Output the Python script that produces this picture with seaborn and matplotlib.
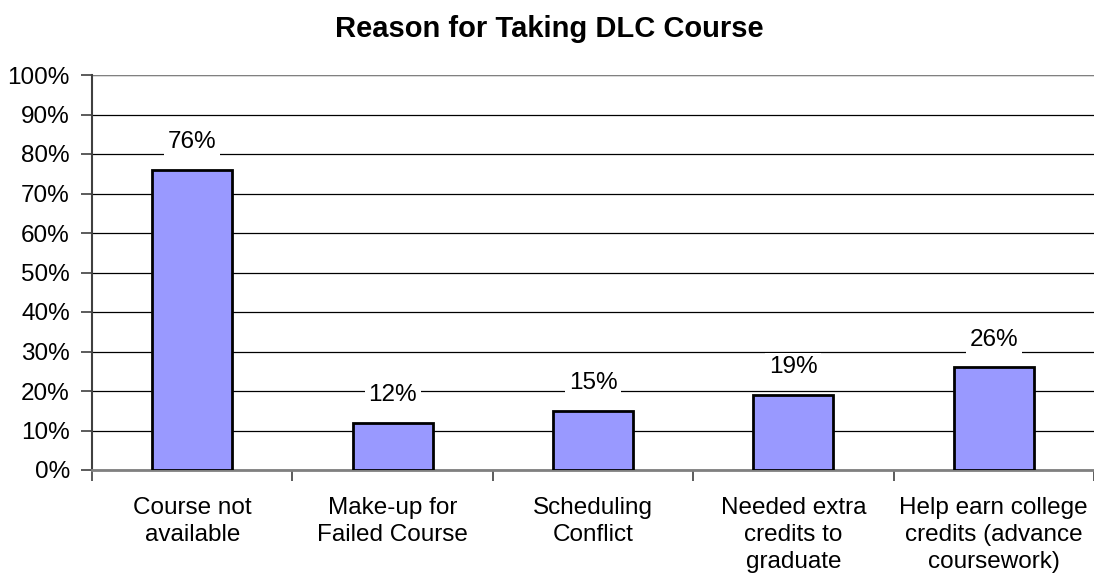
import matplotlib
matplotlib.use("Agg")
import matplotlib.pyplot as plt
import seaborn as sns
import pandas as pd
from matplotlib.ticker import MultipleLocator, FuncFormatter

categories = ["Course not\navailable", "Make-up for\nFailed Course", "Scheduling\nConflict",
              "Needed extra\ncredits to\ngraduate", "Help earn college\ncredits (advance\ncoursework)"]
values = [76, 12, 15, 19, 26]
title = "Reason for Taking DLC Course"

sns.set_theme(style="white")
plt.rcParams['font.family'] = ['Liberation Sans', 'DejaVu Sans']
plt.rcParams['text.color'] = 'black'
plt.rcParams['xtick.color'] = 'black'
plt.rcParams['ytick.color'] = 'black'

df = pd.DataFrame({"cat": categories, "val": values})

fig = plt.figure(figsize=(10.94, 5.79), dpi=100)
ax = fig.add_axes([92/1094, 1 - 470/579, 1 - 92/1094, (470 - 75)/579])

sns.barplot(data=df, x="cat", y="val", ax=ax, color="#9999FF", saturation=1,
            width=0.4, edgecolor="black", linewidth=2, zorder=3)

ax.set_ylim(0, 100)
ax.set_xlim(-0.5, len(categories) - 0.5)
ax.yaxis.set_major_locator(MultipleLocator(10))
ax.yaxis.set_major_formatter(FuncFormatter(lambda v, p: f"{int(v)}%"))
ax.grid(axis="y", color="black", linewidth=0.9, zorder=0)
ax.set_axisbelow(True)

FS = 17.5

ax.set_xticks([i + 0.5 for i in range(-1, len(categories))], minor=False)
ax.set_xticklabels([])
ax.set_xticks(range(len(categories)), minor=True)
ax.set_xticklabels(categories, minor=True, fontsize=FS, linespacing=1.28, va="top")
ax.tick_params(axis="x", which="major", length=8, width=1.2, color="#404040", direction="out", bottom=True)
ax.tick_params(axis="x", which="minor", length=0, pad=19.5, labelcolor="black")
ax.tick_params(axis="y", length=8, width=1.2, color="#404040", direction="out", left=True,
               labelsize=FS, pad=8, labelcolor="black")

for s in ["top", "right"]:
    ax.spines[s].set_visible(False)
ax.spines["left"].set_color("#404040")
ax.spines["left"].set_linewidth(1.5)
ax.spines["bottom"].set_color("#808080")
ax.spines["bottom"].set_linewidth(2)
ax.axhline(100, color="#808080", linewidth=1.5, zorder=1)

for i, v in enumerate(values):
    ax.annotate(f"{v}%", xy=(i, v), xytext=(0, 20), textcoords="offset points",
                ha="center", va="center", fontsize=FS, color="black",
                bbox=dict(boxstyle="square,pad=0.15", facecolor="white", edgecolor="none"), zorder=4)

ax.set_xlabel("")
ax.set_ylabel("")
fig.suptitle(title, fontsize=21, fontweight="bold", y=1 - 29/579, va="center", x=549/1094, color="black")

fig.savefig("out.png", dpi=100)
